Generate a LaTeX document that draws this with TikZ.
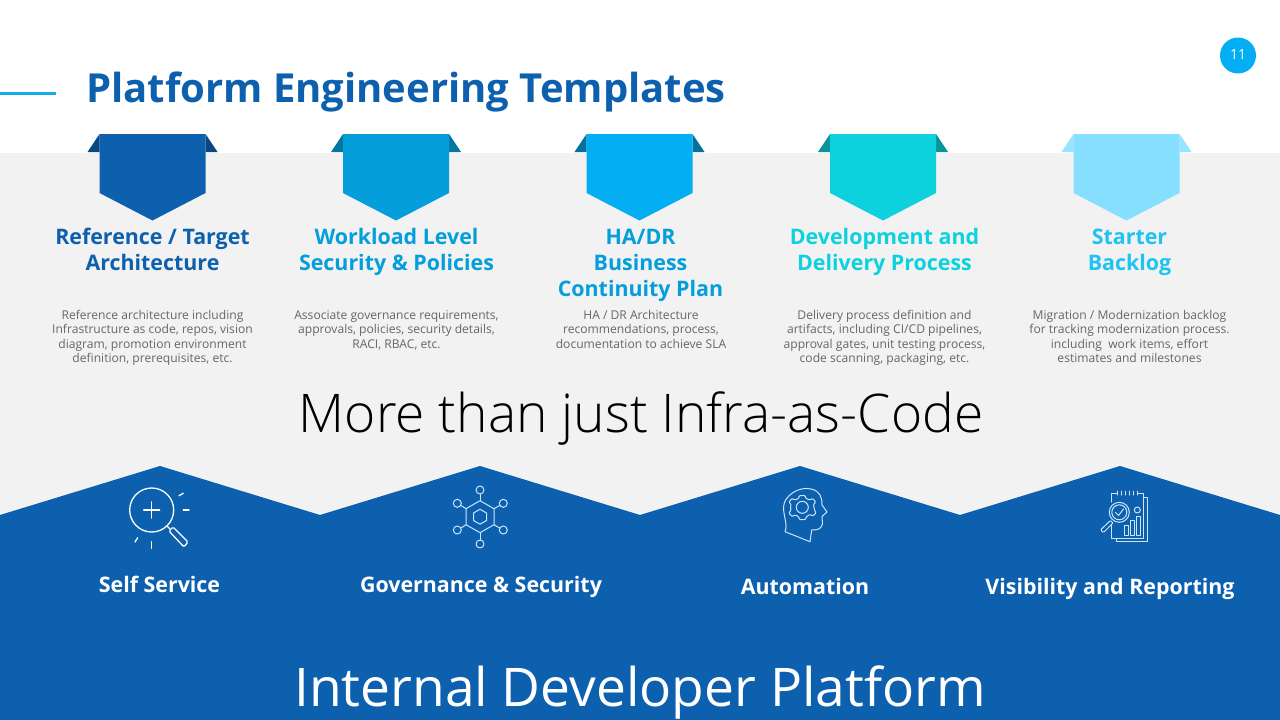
\documentclass[tikz,border=0pt]{standalone}
\usepackage{fontspec}
\setmainfont{Open Sans}
\newfontfamily\thinfont{Open Sans Light}
\usetikzlibrary{positioning}

\definecolor{deepblue}{HTML}{0C60AE}
\definecolor{midblue}{HTML}{049FDB}
\definecolor{skyblue}{HTML}{03AEF3}
\definecolor{tealblue}{HTML}{0DD2DE}
\definecolor{paleblue}{HTML}{86DFFF}
\definecolor{starterblue}{HTML}{1EC3F2}
\definecolor{panelgray}{HTML}{F2F2F2}
\definecolor{descgray}{HTML}{666666}
\definecolor{rulecyan}{HTML}{11ADE8}
\definecolor{iconpale}{HTML}{CFE6FA}

\tikzset{
  heading/.style={anchor=north, align=center, inner sep=0pt, font=\fontsize{21.4}{26}\selectfont\bfseries},
  desc/.style={anchor=north, align=center, inner sep=0pt, text=descgray, font=\fontsize{12.1}{14.5}\selectfont},
  pillar/.style={anchor=base, inner sep=0pt, text=white, font=\fontsize{21.4}{25}\selectfont\bfseries},
  big/.style={anchor=base, inner sep=0pt, font=\fontsize{53.3}{60}\selectfont\thinfont},
  icon/.style={draw=white, line width=1.3pt, line cap=round, line join=round},
  iconthin/.style={draw=iconpale, line width=1pt, line cap=round, line join=round}
}

%% pennant: x of centre, colour, flap colour
\newcommand\pennant[3]{
  \fill[#3] (#1-65,152) -- (#1-53,134) -- (#1-53,152) -- cycle;
  \fill[#3] (#1+65,152) -- (#1+53,134) -- (#1+53,152) -- cycle;
  \fill[#2] (#1-53,134) -- (#1+53,134) -- (#1+53,193) -- (#1,220.5) -- (#1-53,193) -- cycle;
}

\begin{document}
\begin{tikzpicture}[x=1pt,y=-1pt]
  \useasboundingbox (0,0) rectangle (1280,720);

  %% panels
  \fill[white] (0,0) rectangle (1280,720);
  \fill[panelgray] (0,153) rectangle (1280,720);
  \fill[deepblue] (0,515) -- (160,466) -- (320,515) -- (480,466) -- (640,515)
  -- (800,466) -- (960,515) -- (1120,466) -- (1280,515) -- (1280,720) -- (0,720) -- cycle;

  %% title
  \fill[rulecyan] (0,91.5) rectangle (56,94.5);
  \node[anchor=base west, inner sep=0pt, text=deepblue, font=\fontsize{40}{46}\selectfont\bfseries]
  (title) at (86,102) {Platform Engineering Templates};
  \fill[skyblue] (1238,55.5) circle (18);
  \node[inner sep=0pt, text=white, font=\fontsize{14}{16}\selectfont] (pageno) at (1238,55) {11};

  %% pennants
  \pennant{152.5}{deepblue}{deepblue!75!black}
  \pennant{396}{midblue}{midblue!75!black}
  \pennant{639.5}{skyblue}{skyblue!65!black}
  \pennant{883}{tealblue}{tealblue!70!black}
  \pennant{1126.5}{paleblue}{paleblue!85!white}

  %% headings
  \node[heading, text=deepblue] (refhead) at (152.5,228) {Reference / Target\\Architecture};
  \node[heading, text=midblue] (loadhead) at (396.5,228) {Workload Level\\Security \& Policies};
  \node[heading, text=midblue] (hahead) at (640.5,229) {HA/DR\\Business\\Continuity Plan};
  \node[heading, text=tealblue] (devhead) at (884.5,228) {Development and\\Delivery Process};
  \node[heading, text=starterblue] (backhead) at (1129.5,229) {Starter\\Backlog};

  %% descriptions
  \node[desc] (refdesc) at (152.5,310) {Reference architecture including\\Infrastructure as code, repos, vision\\diagram, promotion environment\\definition, prerequisites, etc.};
  \node[desc] (loaddesc) at (396.5,310) {Associate governance requirements,\\approvals, policies, security details,\\RACI, RBAC, etc.};
  \node[desc] (hadesc) at (641,310) {HA / DR Architecture\\recommendations, process,\\documentation to achieve SLA};
  \node[desc] (devdesc) at (884.5,310) {Delivery process definition and\\artifacts, including CI/CD pipelines,\\approval gates, unit testing process,\\code scanning, packaging, etc.};
  \node[desc] (backdesc) at (1129.5,310) {Migration / Modernization backlog\\for tracking modernization process.\\including\ \ work items, effort\\estimates and milestones};

  %% slogans
  \node[big, text=black] (slogan) at (641,432) {More than just Infra-as-Code};
  \node[anchor=base, inner sep=0pt, text=white, font=\fontsize{53.3}{60}\selectfont] (platform) at (640,706) {Internal Developer Platform};

  %% pillars
  \node[pillar] (selfserve) at (159.5,592) {Self Service};
  \node[pillar] (govern) at (481,592) {Governance \& Security};
  \node[pillar] (auto) at (805,594) {Automation};
  \node[pillar] (visible) at (1110,594) {Visibility and Reporting};

  %% magnifier icon
  \draw[icon] (151.7,510) circle (22);
  \draw[icon] (143.7,510) -- (159.7,510);
  \draw[icon] (151.7,502) -- (151.7,518);
  \draw[icon] (167,526) -- (170,529);
  \draw[icon, rounded corners=1.5pt] (169,531) -- (173,527) -- (188,542) -- (184,547) -- cycle;
  \draw[icon] (179,495.7) -- (183.3,493.3);
  \draw[icon] (183.3,510) -- (189,510);
  \draw[icon] (151.7,541.7) -- (151.7,548.3);
  \draw[icon] (137.7,537.7) -- (135,542);

  %% network icon
  \draw[iconthin] (480,500.7) -- (494,508.7) -- (494,524.7) -- (480,532.7) -- (466,524.7) -- (466,508.7) -- cycle;
  \draw[iconthin] (480,509.2) -- (486.5,513) -- (486.5,520.5) -- (480,524.2) -- (473.5,520.5) -- (473.5,513) -- cycle;
  \draw[iconthin] (480,490) circle (4);
  \draw[iconthin] (480,544) circle (4);
  \draw[iconthin] (457.3,503.3) circle (4);
  \draw[iconthin] (503.3,503.3) circle (4);
  \draw[iconthin] (457.3,530) circle (4);
  \draw[iconthin] (503.3,530) circle (4);
  \draw[iconthin] (480,494) -- (480,500.7);
  \draw[iconthin] (480,532.7) -- (480,540);
  \draw[iconthin] (461,505.5) -- (466,508.7);
  \draw[iconthin] (499.6,505.5) -- (494,508.7);
  \draw[iconthin] (461,528) -- (466,524.7);
  \draw[iconthin] (499.6,528) -- (494,524.7);

  %% head icon
  \draw[iconthin] (785,531.7) .. controls (788,524) and (783.5,517) .. (783.5,507)
  .. controls (784,495) and (800,486) .. (811,489)
  .. controls (820,491) and (822,497) .. (822,505)
  -- (827,512) -- (822,516.5) -- (822.5,524)
  .. controls (821,530) and (816,530) .. (811.7,530)
  -- (810,541.7) -- cycle;
  \draw[iconthin] (802.3,507.3) circle (6);
  \draw[iconthin, rounded corners=0.8pt] (799.5,495.5) -- (805,495.5) -- (806,498.5) -- (810,500)
  -- (812.7,498.5) -- (815.7,502) -- (813.5,504.5) -- (814,507.5) -- (814.5,510)
  -- (816,513) -- (812.7,516) -- (810,514.5) -- (806.5,516.5) -- (805.5,519.5)
  -- (799.5,519.5) -- (798.5,516.5) -- (795,515) -- (792,516.5) -- (789,513)
  -- (791,510) -- (790.5,507.5) -- (791,504.5) -- (789,502) -- (792,498.5)
  -- (795,500) -- (798.5,498.5) -- cycle;

  %% report icon
  \draw[iconthin] (1117,493.3) -- (1111.7,493.3) -- (1111.7,502);
  \draw[iconthin] (1138,493.3) -- (1143.3,493.3) -- (1143.3,538.3) -- (1111.7,538.3) -- (1111.7,524);
  \draw[iconthin] (1143.3,497) -- (1147,497) -- (1147,541.7) -- (1116,541.7) -- (1116,538.3);
  \draw[iconthin] (1117,491) -- (1117,495);
  \draw[iconthin] (1121,491) -- (1121,495);
  \draw[iconthin] (1125,491) -- (1125,495);
  \draw[iconthin] (1129,491) -- (1129,495);
  \draw[iconthin] (1133,491) -- (1133,495);
  \draw[iconthin] (1137,491) -- (1137,495);
  \draw[iconthin] (1119.3,512.3) circle (10);
  \draw[iconthin] (1119.3,512.3) circle (7.5);
  \draw[iconthin] (1115.5,512.5) -- (1118.5,515.5) -- (1123.5,509);
  \draw[iconthin, rounded corners=1pt] (1110.5,520.5) -- (1113,523) -- (1103.5,532.5) -- (1100.5,530) -- cycle;
  \draw[iconthin] (1137.3,510) circle (3);
  \draw[iconthin] (1124.3,525) rectangle (1128.3,535);
  \draw[iconthin] (1130.7,520) rectangle (1134.3,535);
  \draw[iconthin] (1136,516.7) rectangle (1140,535);

\end{tikzpicture}
\end{document}
